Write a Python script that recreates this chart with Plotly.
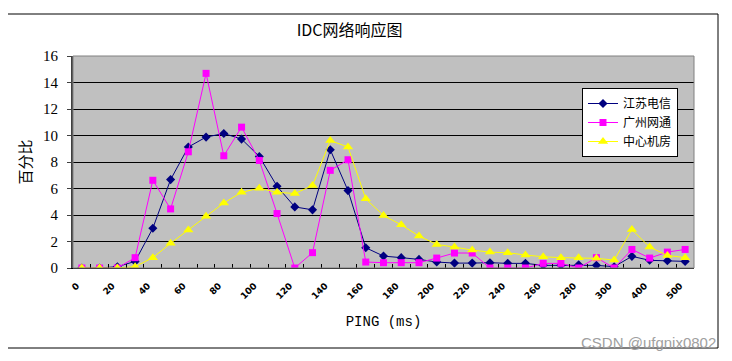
import plotly.graph_objects as go

categories = ["0", "10", "20", "30", "40", "50", "60", "70", "80", "90", "100",
              "110", "120", "130", "140", "150", "160", "170", "180", "190", "200",
              "210", "220", "230", "240", "250", "260", "270", "280", "290", "300",
              "350", "400", "450", "500"]
tick_labels = ["0", "", "20", "", "40", "", "60", "", "80", "", "100",
               "", "120", "", "140", "", "160", "", "180", "", "200",
               "", "220", "", "240", "", "260", "", "280", "", "300",
               "", "400", "", "500"]

jiangsu = [0, 0, 0.1, 0.5, 3.0, 6.67, 9.13, 9.88, 10.15, 9.73, 8.42,
           6.17, 4.61, 4.39, 8.92, 5.84, 1.53, 0.9, 0.78, 0.65, 0.45,
           0.37, 0.37, 0.4, 0.35, 0.35, 0.2, 0.2, 0.25, 0.2, 0.1,
           0.88, 0.58, 0.55, 0.5]
guangzhou = [0, 0, 0, 0.78, 6.62, 4.46, 8.77, 14.69, 8.47, 10.63, 8.12,
             4.11, 0, 1.16, 7.37, 8.17, 0.45, 0.4, 0.4, 0.4, 0.75,
             1.13, 1.13, 0, 0, 0, 0.35, 0.35, 0, 0.78, 0,
             1.4, 0.75, 1.2, 1.4]
center = [0, 0, 0, 0.1, 0.78, 1.86, 2.86, 3.91, 4.91, 5.71, 6.02,
          5.71, 5.62, 6.22, 9.62, 9.13, 5.22, 3.96, 3.26, 2.41, 1.78,
          1.58, 1.35, 1.2, 1.15, 0.98, 0.85, 0.78, 0.78, 0.73, 0.6,
          2.9, 1.58, 0.95, 0.78]

names = ["江苏电信", "广州网通", "中心机房"]
colors = ["#000080", "#FF00FF", "#FFFF00"]
symbols = ["diamond", "square", "triangle-up"]
sizes = [7, 7, 9]

fig = go.Figure()
for name, vals, c, s, sz in zip(names, [jiangsu, guangzhou, center], colors, symbols, sizes):
    fig.add_trace(go.Scatter(
        x=categories, y=vals, name=name, mode="lines+markers",
        line=dict(color=c, width=1),
        marker=dict(symbol=s, size=sz, color=c, line=dict(width=0)),
    ))

# page body has an 8px margin: work in screen coords, shift by OFF
OFF = 8
W, H = 732 - OFF, 361 - OFF
PL, PR, PT, PB = 73, 694, 56, 268          # plot area in screen coords
L, T = PL - OFF, PT - OFF
R, B = W - (PR - OFF), H - (PB - OFF)
pw, ph = W - L - R, H - T - B

def px(x):
    return (x - OFF - L) / pw

def py(y):
    return (H - B - (y - OFF)) / ph

fig.update_layout(
    width=W, height=H,
    margin=dict(l=L, r=R, t=T, b=B, pad=0, autoexpand=False),
    paper_bgcolor="white",
    plot_bgcolor="#C0C0C0",
    font=dict(family="Liberation Serif, Noto Sans CJK SC", color="black"),
    title=dict(text="IDC网络响应图", x=px(366), xanchor="center",
               y=1 - (30 - OFF) / H, yanchor="middle", automargin=False,
               font=dict(size=16, family="Noto Sans CJK SC", color="black")),
    showlegend=True,
    legend=dict(x=px(582), y=py(88), xanchor="left", yanchor="top",
                bgcolor="white", bordercolor="black", borderwidth=1,
                font=dict(size=12, family="Noto Sans CJK SC", color="black"),
                tracegroupgap=0, itemwidth=30),
    xaxis=dict(
        type="category", range=[-0.5, len(categories) - 0.5],
        tickmode="array", tickvals=categories, ticktext=tick_labels,
        tickson="boundaries", ticks="inside", ticklen=4, tickcolor="black",
        tickangle=-45, ticklabelstandoff=8, ticklabelshift=-5,
        tickfont=dict(size=9, family="DejaVu Sans", weight="bold", color="black"),
        showgrid=False, showline=True, linecolor="black", linewidth=1,
        zeroline=False, mirror=False, automargin=False,
        title=dict(text="PING (ms)", standoff=16,
                   font=dict(size=14, family="Liberation Mono", color="black")),
    ),
    yaxis=dict(
        range=[0, 16], dtick=2, tick0=0,
        ticks="outside", ticklen=4, tickcolor="#404040",
        ticklabelstandoff=6, automargin=False,
        tickfont=dict(size=15, family="Liberation Serif", color="black"),
        showgrid=True, gridcolor="black", gridwidth=1,
        showline=True, linecolor="#404040", linewidth=2,
        zeroline=False,
        title=dict(text="百分比", standoff=8,
                   font=dict(size=15, family="Noto Sans CJK SC", color="black")),
    ),
    shapes=[
        dict(type="rect", xref="paper", yref="paper", x0=0, x1=1, y0=0, y1=1,
             line=dict(color="#808080", width=1), layer="above"),
        dict(type="rect", xref="paper", yref="paper",
             x0=px(7), x1=px(718), y0=py(348), y1=py(14),
             line=dict(color="black", width=1)),
    ],
    annotations=[
        dict(text="CSDN @ufgnix0802", xref="paper", yref="paper",
             x=px(718), y=py(342), xanchor="right", yanchor="middle",
             showarrow=False,
             font=dict(size=15, family="Liberation Sans", color="#A0A0A0")),
    ],
)

fig.write_html("out.html")
